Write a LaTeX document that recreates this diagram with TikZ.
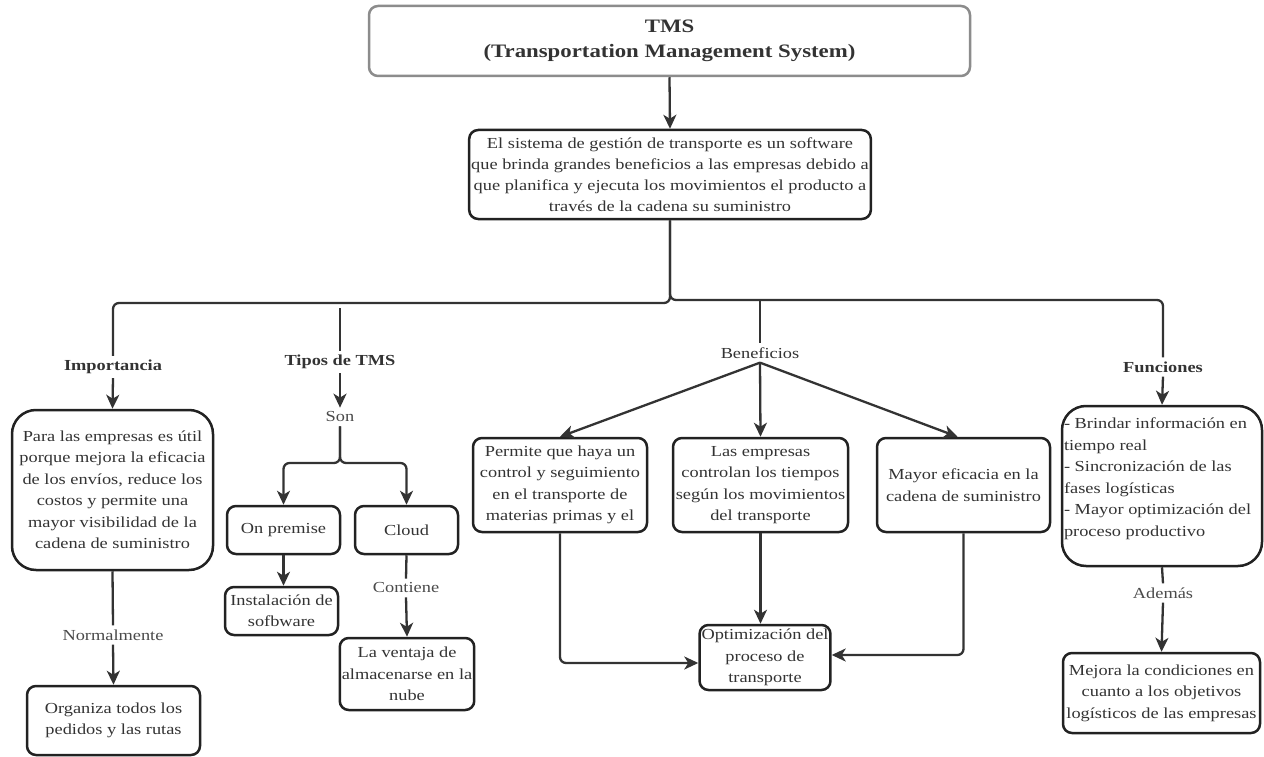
\documentclass[tikz,border=0pt]{standalone}
\usepackage{fontspec}
\setmainfont{Liberation Serif}[FakeStretch=1.2]
\usetikzlibrary{arrows.meta,calc}
\definecolor{ink}{HTML}{333333}
\definecolor{edge}{HTML}{222222}
\definecolor{soft}{HTML}{4A4A4A}
\definecolor{frame}{HTML}{8C8C8C}

\begin{document}
\begin{tikzpicture}[x=1pt,y=-1pt,
  box/.style={draw=edge, line width=2.5pt, rounded corners=9pt, align=center,
    inner sep=2pt, text=ink, font=\fontsize{15.3}{21.5}\selectfont},
  bigbox/.style={box, rounded corners=24pt},
  lbl/.style={text=soft, font=\fontsize{15.3}{18}\selectfont, inner sep=4pt},
  blbl/.style={lbl, text=ink, font=\fontsize{15.3}{18}\selectfont\bfseries},
  link/.style={draw=ink, line width=2.3pt, rounded corners=6pt},
  arr/.style={link, -{Stealth[length=14pt,width=13pt,inset=4pt]}},
]
\useasboundingbox (0,0) rectangle (1264,757);
\fill[white] (0,0) rectangle (1264,757);

% title and description
\node[box, draw=frame, minimum width=601pt, minimum height=70pt,
  font=\fontsize{19}{25}\selectfont\bfseries] (tms) at (669.5,41)
  {TMS\\(Transportation Management System)};
\node[box, minimum width=396pt, minimum height=89pt,
  font=\fontsize{15.3}{21}\selectfont] (desc) at (670,174.5)
  {El sistema de gestión de transporte es un software\\
   que brinda grandes beneficios a las empresas debido a\\
   que planifica y ejecuta los movimientos el producto a\\
   través de la cadena su suministro};

% branch labels
\node[blbl] (implbl) at (113,367) {Importancia};
\node[blbl] (tipos) at (340,362) {Tipos de TMS};
\node[lbl] (son) at (340,417) {Son};
\node[lbl, text=ink] (ben) at (760,353) {Beneficios};
\node[blbl] (funlbl) at (1163,367) {Funciones};
\node[lbl] (norm) at (113,635) {Normalmente};
\node[lbl] (cont) at (406,588) {Contiene};
\node[lbl] (adem) at (1163,593) {Además};

% Importancia
\node[bigbox, minimum width=201pt, minimum height=160pt] (imp) at (112.5,490)
  {Para las empresas es útil\\porque mejora la eficacia\\de los envíos, reduce los\\
   costos y permite una\\mayor visibilidad de la\\cadena de suministro};
\node[box, minimum width=173pt, minimum height=69pt] (org) at (113.5,720.5)
  {Organiza todos los\\pedidos y las rutas};

% Tipos de TMS
\node[box, minimum width=113pt, minimum height=48pt] (onp) at (283.5,530) {On premise};
\node[box, minimum width=103pt, minimum height=48pt] (cloud) at (406.5,530) {Cloud};
\node[box, minimum width=113pt, minimum height=48pt] (inst) at (281.5,611)
  {Instalación de\\sofbware};
\node[box, minimum width=130pt, minimum height=72pt] (vent) at (407,674)
  {La ventaja de\\almacenarse en la\\nube};

% Beneficios
\node[box, minimum width=174pt, minimum height=94pt] (perm) at (560,485)
  {Permite que haya un\\control y seguimiento\\en el transporte de\\materias primas y el};
\node[box, minimum width=175pt, minimum height=94pt] (emp) at (760.5,485)
  {Las empresas\\controlan los tiempos\\según los movimientos\\del transporte};
\node[box, minimum width=173pt, minimum height=94pt] (may) at (963.5,485)
  {Mayor eficacia en la\\cadena de suministro};
\node[box, minimum width=130pt, minimum height=65pt] (opt) at (765,657.5)
  {Optimización del\\proceso de\\transporte};

% Funciones
\node[bigbox, inner sep=0pt, minimum width=200pt, minimum height=160pt] (fun) at (1162,486)
  {\parbox[c][156pt][t]{196pt}{\raggedright\vspace*{10pt}%
   - Brindar información en\\tiempo real\\- Sincronización de las\\
   fases logísticas\\- Mayor optimización del\\proceso productivo}};
\node[box, minimum width=197pt, minimum height=80pt] (mej) at (1161.5,693)
  {Mejora la condiciones en\\cuanto a los objetivos\\logísticos de las empresas};

% connectors
\coordinate (busL) at (670,303);
\coordinate (busR) at (670,300);
\coordinate (tipTop) at (340,308);
\coordinate (benTop) at (760,301);
\coordinate (sonFork) at (340,463);

\draw[arr] (tms.south) -- (desc.north);
\draw[link] (desc.south) -- (busL) -| (implbl.north);
\draw[link] (desc.south) -- (busR) -| (funlbl.north);
\draw[link] (tipTop) -- (tipos.north);
\draw[link] (benTop) -- (ben.north);

\draw[arr] (implbl.south) -- (imp.north);
\draw[link] (imp.south) -- (norm.north);
\draw[arr] (norm.south) -- (org.north);

\draw[arr] (tipos.south) -- (son.north);
\draw[arr] (son.south) -- (sonFork) -| (onp.north);
\draw[arr] (son.south) -- (sonFork) -| (cloud.north);
\draw[arr] (onp.south) -- (onp.south |- inst.north);
\draw[link] (cloud.south) -- (cont.north);
\draw[arr] (cont.south) -- (vent.north);

\draw[arr] (ben.south) -- (perm.north);
\draw[arr] (ben.south) -- (emp.north);
\draw[arr] (ben.south) -- ([xshift=-6pt]may.north);
\draw[arr] (perm.south) |- ($(opt.west)+(0,5.5)$);
\draw[arr] (emp.south) -- (emp.south |- opt.north);
\draw[arr] (may.south) |- ($(opt.east)+(0,-2.5)$);

\draw[arr] (funlbl.south) -- (fun.north);
\draw[link] (fun.south) -- (adem.north);
\draw[arr] (adem.south) -- (mej.north);
\end{tikzpicture}
\end{document}
